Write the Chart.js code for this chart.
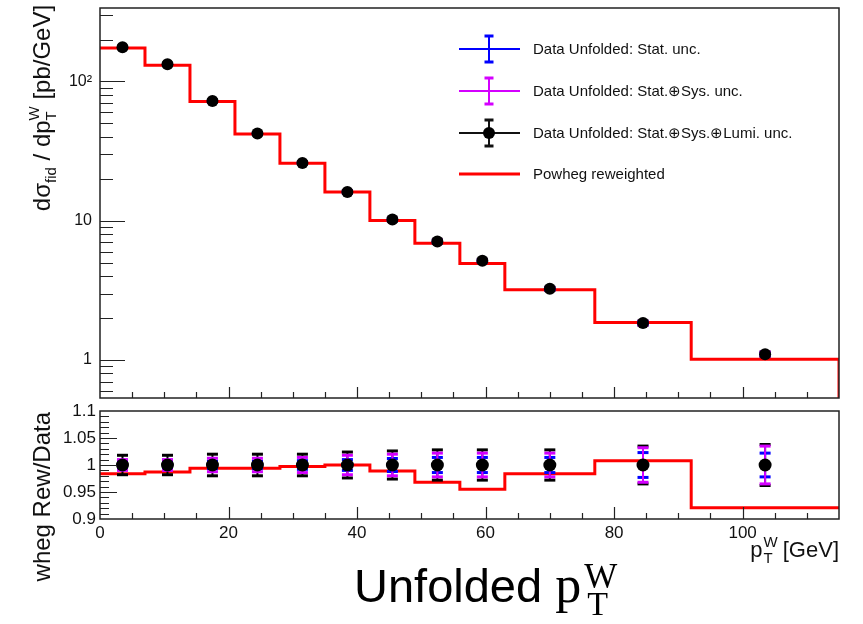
<!DOCTYPE html>
<html>
<head>
<meta charset="utf-8">
<script src="https://cdn.jsdelivr.net/npm/chart.js@4.4.1/dist/chart.umd.min.js"></script>
<style>
  html, body { margin: 0; padding: 0; background: #fff; }
  #wrap { position: relative; width: 863px; height: 624px; overflow: hidden; }
  #topBox { position: absolute; left: 0; top: 0; }
  #botBox { position: absolute; left: 0; top: 404px; }
</style>
</head>
<body>
<div id="wrap">
  <div id="topBox"><canvas id="topChart" width="863" height="404"></canvas></div>
  <div id="botBox"><canvas id="ratioChart" width="863" height="220"></canvas></div>
</div>
<script>
// ---- data ----
const binEdges   = [0, 7, 14, 21, 28, 35, 42, 49, 56, 63, 77, 92, 115];
const binCenters = [3.5, 10.5, 17.5, 24.5, 31.5, 38.5, 45.5, 52.5, 59.5, 70, 84.5, 103.5];
const dataXsec   = [176, 133, 72.3, 42.3, 26.0, 16.1, 10.2, 7.1, 5.15, 3.24, 1.84, 1.10];   // pb/GeV
const powhegXsec = [174, 131, 71.8, 42.0, 25.9, 16.1, 10.05, 6.88, 4.92, 3.19, 1.86, 1.01];
const ratioData  = [1, 1, 1, 1, 1, 1, 1, 1, 1, 1, 1, 1];
const powhegRatio = [0.984, 0.987, 0.994, 0.994, 0.997, 1.0, 0.989, 0.968, 0.955, 0.984, 1.008, 0.921];
// relative uncertainties
const relErrStat    = [0.006, 0.006, 0.007, 0.007, 0.008, 0.010, 0.012, 0.014, 0.014, 0.014, 0.023, 0.022];
const relErrStatSys = [0.010, 0.010, 0.0125, 0.0125, 0.014, 0.018, 0.020, 0.022, 0.022, 0.022, 0.032, 0.035];
const relErrTotal   = [0.018, 0.018, 0.020, 0.020, 0.020, 0.024, 0.026, 0.028, 0.028, 0.028, 0.035, 0.038];

const xTickValues = [0, 20, 40, 60, 80, 100];
const topYTicks = [1, 10, 100];
const topYTickLabels = ['1', '10', '10\u00B2'];
const ratioYTicks = [0.9, 0.95, 1, 1.05, 1.1];
const ratioYTickLabels = ['0.9', '0.95', '1', '1.05', '1.1'];
const legendLabels = [
  'Data Unfolded: Stat. unc.',
  'Data Unfolded: Stat.\u2295Sys. unc.',
  'Data Unfolded: Stat.\u2295Sys.\u2295Lumi. unc.',
  'Powheg reweighted'
];

const X_MAX = 115;
const TOP_MIN = 0.533, TOP_MAX = 337;
const BLUE = '#0000ff', MAGENTA = '#d400ff', RED = '#ff0000';
const SANS = '"Liberation Sans", Arial, Helvetica, sans-serif';
const SERIF = '"Liberation Serif", "Times New Roman", serif';

Chart.defaults.font.family = SANS;
Chart.defaults.color = '#111';
Chart.defaults.animation = false;

function stepPoints(vals, floor) {
  const pts = vals.map((v, i) => ({ x: binEdges[i], y: v }));
  pts.push({ x: binEdges[binEdges.length - 1], y: vals[vals.length - 1] });
  if (floor !== undefined) pts.push({ x: binEdges[binEdges.length - 1], y: floor });
  return pts;
}

function points(vals) {
  return vals.map((v, i) => ({ x: binCenters[i], y: v }));
}

// text made of pieces (sub/superscripts); a "stack" piece shares its x with the next one
function richText(ctx, parts, x, y, align) {
  let total = 0, pend = 0;
  parts.forEach(p => {
    ctx.font = p.font;
    p.w = ctx.measureText(p.t).width;
    if (p.stack) { pend = p.w; return; }
    p.adv = Math.max(p.w, pend) + (p.gap || 0);
    pend = 0;
    total += p.adv;
  });
  let cx = align === 'right' ? x - total : align === 'center' ? x - total / 2 : x;
  ctx.textAlign = 'left';
  ctx.textBaseline = 'alphabetic';
  parts.forEach(p => {
    ctx.font = p.font;
    ctx.fillText(p.t, cx + (p.pre || 0), y + (p.dy || 0));
    if (!p.stack) cx += p.adv;
  });
}

function line(ctx, x1, y1, x2, y2) {
  ctx.beginPath(); ctx.moveTo(x1, y1); ctx.lineTo(x2, y2); ctx.stroke();
}

// error bars drawn just before the marker dataset (index 0)
const errorBars = {
  id: 'errorBars',
  beforeDatasetDraw(chart, args, opts) {
    if (args.index !== 0 || !opts.values) return;
    const { ctx, chartArea: a } = chart;
    const xs = chart.scales.x, ys = chart.scales.y;
    ctx.save();
    ctx.beginPath(); ctx.rect(a.left, a.top, a.right - a.left, a.bottom - a.top); ctx.clip();
    opts.sets.forEach(s => {
      ctx.strokeStyle = s.color;
      binCenters.forEach((c, i) => {
        const v = opts.values[i], e = v * s.rel[i];
        const px = xs.getPixelForValue(c);
        const y1 = ys.getPixelForValue(v + e), y2 = ys.getPixelForValue(v - e);
        ctx.lineWidth = 2;
        line(ctx, px, y1, px, y2);
        ctx.lineWidth = 3;
        line(ctx, px - 5.5, y1, px + 5.5, y1);
        line(ctx, px - 5.5, y2, px + 5.5, y2);
      });
    });
    ctx.restore();
  }
};

// ROOT style frame with ticks inside
const rootFrame = {
  id: 'rootFrame',
  afterDraw(chart, args, opts) {
    const { ctx, chartArea: a } = chart;
    const xs = chart.scales.x, ys = chart.scales.y;
    ctx.save();
    ctx.strokeStyle = '#222';
    ctx.lineWidth = 1.2;
    ctx.beginPath();
    opts.yTicks.forEach(t => {
      const p = Math.round(ys.getPixelForValue(t.v)) + 0.5;
      ctx.moveTo(a.left, p); ctx.lineTo(a.left + t.len, p);
    });
    opts.xTicks.forEach(t => {
      const p = Math.round(xs.getPixelForValue(t.v)) + 0.5;
      ctx.moveTo(p, a.bottom); ctx.lineTo(p, a.bottom - t.len);
    });
    ctx.stroke();
    ctx.lineWidth = 1.5;
    ctx.strokeRect(a.left, a.top, a.right - a.left, a.bottom - a.top);
    ctx.restore();
    if (opts.extra) opts.extra(chart);
  }
};

// no extra room for half tick labels: the frame sits where padding puts it
function noEdgePadding(scale) {
  scale.paddingTop = 0; scale.paddingBottom = 0;
  scale.paddingLeft = 0; scale.paddingRight = 0;
}

function xTickMarks(major, minor) {
  const out = [];
  for (let v = 5; v < X_MAX; v += 5) out.push({ v, len: v % 20 === 0 ? major : minor });
  return out;
}

function topYTickMarks() {
  const out = [];
  for (let k = -1; k <= 2; k++) {
    for (let m = 1; m <= 9; m++) {
      const v = m * Math.pow(10, k);
      if (v > TOP_MIN && v < TOP_MAX) out.push({ v, len: m === 1 ? 25 : 13 });
    }
  }
  return out;
}

function ratioYTickMarks() {
  const out = [];
  for (let i = 91; i <= 109; i++) out.push({ v: i / 100, len: i % 5 === 0 ? 17 : 9 });
  return out;
}

function drawTopExtras(chart) {
  const ctx = chart.ctx;
  ctx.save();
  ctx.fillStyle = '#111';
  // y title
  ctx.translate(50, 108);
  ctx.rotate(-Math.PI / 2);
  richText(ctx, [
    { t: 'd\u03C3', font: '24px ' + SANS },
    { t: 'fid', font: '15px ' + SANS, dy: 6 },
    { t: ' / dp', font: '24px ' + SANS },
    { t: 'W', font: '15px ' + SANS, dy: -11, stack: true },
    { t: 'T', font: '15px ' + SANS, dy: 6 },
    { t: ' [pb/GeV]', font: '24px ' + SANS }
  ], 0, 0, 'center');
  ctx.restore();

  // legend
  const rowsY = [49, 91, 133, 174];
  const x1 = 459, x2 = 520, xm = 489, xt = 533;
  const styles = [
    { color: BLUE, err: true },
    { color: MAGENTA, err: true },
    { color: '#111', err: true, dot: true },
    { color: RED, err: false }
  ];
  ctx.save();
  styles.forEach((s, i) => {
    const y = rowsY[i];
    ctx.strokeStyle = s.color;
    ctx.lineWidth = s.err ? 2 : 3;
    line(ctx, x1, y, x2, y);
    if (s.err) {
      ctx.lineWidth = 2;
      line(ctx, xm, y - 13, xm, y + 13);
      ctx.lineWidth = 3;
      line(ctx, xm - 4.5, y - 13, xm + 4.5, y - 13);
      line(ctx, xm - 4.5, y + 13, xm + 4.5, y + 13);
    }
    if (s.dot) {
      ctx.fillStyle = '#000';
      ctx.beginPath(); ctx.arc(xm, y, 6, 0, Math.PI * 2); ctx.fill();
    }
    ctx.fillStyle = '#111';
    ctx.font = '15px ' + SANS;
    ctx.textAlign = 'left';
    ctx.textBaseline = 'middle';
    ctx.fillText(legendLabels[i], xt, y + 1);
  });
  ctx.restore();
}

function drawRatioExtras(chart) {
  const ctx = chart.ctx;
  // y title, its lower end hidden like in the original
  ctx.save();
  ctx.beginPath(); ctx.rect(0, 0, 100, 178); ctx.clip();
  ctx.fillStyle = '#111';
  ctx.translate(50, 8);
  ctx.rotate(-Math.PI / 2);
  ctx.font = '24px ' + SANS;
  ctx.textAlign = 'right';
  ctx.textBaseline = 'alphabetic';
  ctx.fillText('Powheg Rew/Data', 0, 0);
  ctx.restore();

  ctx.save();
  ctx.fillStyle = '#111';
  // x title
  richText(ctx, [
    { t: 'p', font: '22px ' + SANS },
    { t: 'W', font: '15px ' + SANS, dy: -10, stack: true, pre: 1 },
    { t: 'T', font: '15px ' + SANS, dy: 6, pre: 1 },
    { t: ' [GeV]', font: '22px ' + SANS }
  ], 839, 153, 'right');
  // big caption
  ctx.fillStyle = '#000';
  richText(ctx, [
    { t: 'Unfolded ', font: '47px ' + SANS },
    { t: 'p', font: '52px ' + SERIF, gap: 3 },
    { t: 'W', font: '35px ' + SERIF, dy: -14, stack: true },
    { t: 'T', font: '34px ' + SERIF, dy: 13, pre: 3 }
  ], 354, 198, 'left');
  ctx.restore();
}

const topChart = new Chart(document.getElementById('topChart'), {
  type: 'scatter',
  data: {
    datasets: [
      {
        label: legendLabels[2],
        data: points(dataXsec),
        pointRadius: 6,
        pointBackgroundColor: '#000',
        pointBorderWidth: 0,
        showLine: false
      },
      {
        label: legendLabels[3],
        type: 'line',
        data: stepPoints(powhegXsec, TOP_MIN),
        stepped: 'before',
        borderColor: RED,
        borderWidth: 3,
        pointRadius: 0,
        fill: false
      }
    ]
  },
  options: {
    responsive: false,
    events: [],
    layout: { padding: { top: 8, right: 24, bottom: 6, left: 0 } },
    scales: {
      x: { type: 'linear', min: 0, max: X_MAX, display: false },
      y: {
        type: 'logarithmic',
        min: TOP_MIN,
        max: TOP_MAX,
        afterFit(scale) { scale.width = 100; noEdgePadding(scale); },
        afterBuildTicks(scale) { scale.ticks = topYTicks.map(v => ({ value: v })); },
        grid: { display: false, drawTicks: false },
        border: { display: false },
        ticks: {
          padding: 8,
          font: { size: 16 },
          color: '#111',
          callback(value) { return topYTickLabels[topYTicks.indexOf(value)]; }
        }
      }
    },
    plugins: {
      legend: { display: false },
      tooltip: { enabled: false },
      errorBars: {
        values: dataXsec,
        sets: [
          { color: '#000', rel: relErrTotal },
          { color: BLUE, rel: relErrStat },
          { color: MAGENTA, rel: relErrStatSys }
        ]
      },
      rootFrame: {
        yTicks: topYTickMarks(),
        xTicks: xTickMarks(11, 6),
        extra: drawTopExtras
      }
    }
  },
  plugins: [errorBars, rootFrame]
});

const ratioChart = new Chart(document.getElementById('ratioChart'), {
  type: 'scatter',
  data: {
    datasets: [
      {
        label: 'Data',
        data: points(ratioData),
        pointRadius: 6.5,
        pointBackgroundColor: '#000',
        pointBorderWidth: 0,
        showLine: false
      },
      {
        label: 'Powheg reweighted / Data',
        type: 'line',
        data: stepPoints(powhegRatio),
        stepped: 'before',
        borderColor: RED,
        borderWidth: 3,
        pointRadius: 0,
        fill: false
      }
    ]
  },
  options: {
    responsive: false,
    events: [],
    layout: { padding: { top: 7, right: 24, bottom: 0, left: 0 } },
    scales: {
      x: {
        type: 'linear',
        min: 0,
        max: X_MAX,
        afterFit(scale) { scale.height = 105; noEdgePadding(scale); },
        afterBuildTicks(scale) { scale.ticks = xTickValues.map(v => ({ value: v })); },
        grid: { display: false, drawTicks: false },
        border: { display: false },
        ticks: { padding: 4, font: { size: 17 }, color: '#111', maxRotation: 0 }
      },
      y: {
        type: 'linear',
        min: 0.9,
        max: 1.1,
        afterFit(scale) { scale.width = 100; noEdgePadding(scale); },
        afterBuildTicks(scale) { scale.ticks = ratioYTicks.map(v => ({ value: v })); },
        grid: { display: false, drawTicks: false },
        border: { display: false },
        ticks: {
          padding: 4,
          font: { size: 17 },
          color: '#111',
          callback(value, i) { return ratioYTickLabels[i]; }
        }
      }
    },
    plugins: {
      legend: { display: false },
      tooltip: { enabled: false },
      errorBars: {
        values: ratioData,
        sets: [
          { color: '#000', rel: relErrTotal },
          { color: BLUE, rel: relErrStat },
          { color: MAGENTA, rel: relErrStatSys }
        ]
      },
      rootFrame: {
        yTicks: ratioYTickMarks(),
        xTicks: xTickMarks(12, 6),
        extra: drawRatioExtras
      }
    }
  },
  plugins: [errorBars, rootFrame]
});
</script>
</body>
</html>
